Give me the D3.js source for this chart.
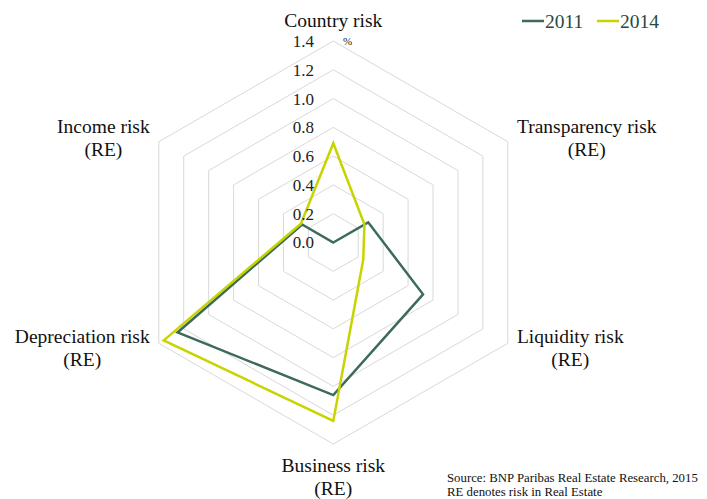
<!DOCTYPE html>
<html><head><meta charset="utf-8">
<script src="https://cdn.jsdelivr.net/npm/d3@7/dist/d3.min.js"></script>
<style>body{margin:0;background:#fff}svg{display:block}text{font-family:"Liberation Serif","Times New Roman",serif}</style>
</head><body><svg id="c" width="707" height="499"></svg>
<script>
const categories = [["Country risk"], ["Transparency risk", "(RE)"], ["Liquidity risk", "(RE)"], ["Business risk", "(RE)"], ["Depreciation risk", "(RE)"], ["Income risk", "(RE)"]];
const seriesNames = ["2011", "2014"];
const values2011 = [0.0, 0.28, 0.72, 1.06, 1.25, 0.25];
const values2014 = [0.69, 0.25, 0.24, 1.24, 1.36, 0.26];
const tickValues = [0.0, 0.2, 0.4, 0.6, 0.8, 1.0, 1.2, 1.4];
const colors = ["#3d6b58", "#c8d400"];

const svg = d3.select("#c");
const cx = 333.3, cy = 242.5;
const r = d3.scaleLinear().domain([0, 1.4]).range([0, 201.5]);
const n = categories.length;
const ang = i => i * 2 * Math.PI / n;
const pt = (i, v) => [cx + r(v) * Math.sin(ang(i)), cy - r(v) * Math.cos(ang(i))];

// grid hexagons
const g = svg.append("g");
tickValues.filter(t => t > 0).forEach(t => {
  g.append("path")
    .attr("d", d3.line()(d3.range(n).map(i => pt(i, t))) + "Z")
    .attr("fill", "none").attr("stroke", "#d9d9d9").attr("stroke-width", 1);
});

// series
[values2011, values2014].forEach((vals, k) => {
  svg.append("path")
    .attr("d", d3.line()(vals.map((v, i) => pt(i, v))) + "Z")
    .attr("fill", "none").attr("stroke", colors[k]).attr("stroke-width", 2.5)
    .attr("stroke-linejoin", "miter");
});

// tick labels
svg.append("g").selectAll("text").data(tickValues).join("text")
  .attr("x", 314).attr("y", d => cy - r(d)).attr("dy", "0.35em")
  .attr("text-anchor", "end").attr("font-size", 17).attr("fill", "#222")
  .text(d => d.toFixed(1));
svg.append("text").attr("x", 343).attr("y", 45).attr("font-size", 11).attr("fill", "#222").text("%");

// category labels
categories.forEach((lines, i) => {
  const [vx, vy] = pt(i, 1.4);
  const t = svg.append("text").attr("font-size", 19.5).attr("fill", "#111").attr("text-anchor", "middle");
  lines.forEach((l, j) => t.append("tspan").attr("x", 0).attr("dy", j === 0 ? 0 : 23).text(l));
  const w = t.node().getBBox().width;
  let x, y;
  const a = ang(i);
  if (i === 0) { x = vx; y = vy - 14; }
  else if (i === 3) { x = vx; y = vy + 28; }
  else {
    const side = Math.sin(a) > 0 ? 1 : -1;
    x = vx + side * (9 + w / 2);
    y = Math.cos(a) > 0 ? vy - 8.5 : vy;
  }
  t.attr("transform", `translate(${x},${y})`);
});

// legend
const legX = [522, 597];
seriesNames.forEach((s, k) => {
  svg.append("line").attr("x1", legX[k]).attr("x2", legX[k] + 22).attr("y1", 21).attr("y2", 21)
    .attr("stroke", colors[k]).attr("stroke-width", 2.5);
  svg.append("text").attr("x", legX[k] + 23).attr("y", 28).attr("font-size", 19.5).attr("fill", "#264a44").text(s);
});

// source
svg.append("text").attr("x", 447).attr("y", 481.5).attr("font-size", 12.8).attr("fill", "#111").text("Source: BNP Paribas Real Estate Research, 2015");
svg.append("text").attr("x", 447).attr("y", 496).attr("font-size", 12.8).attr("fill", "#111").text("RE denotes risk in Real Estate");
</script></body></html>
